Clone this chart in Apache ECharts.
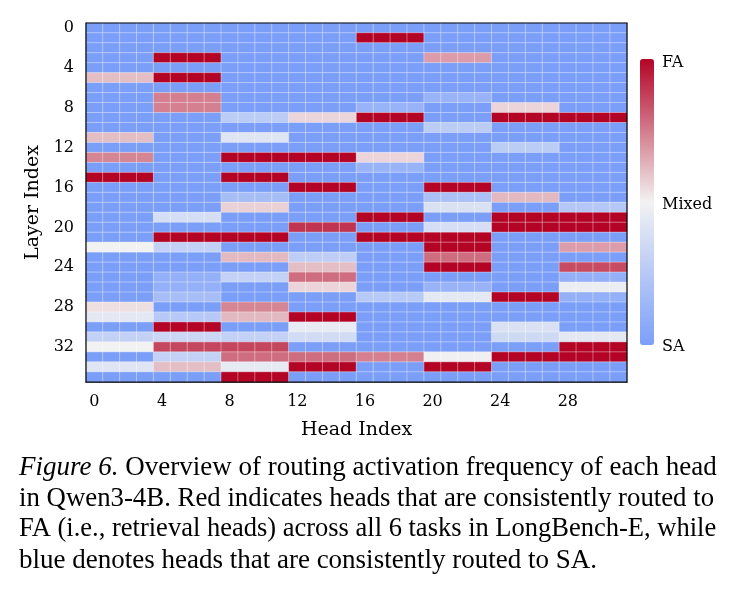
<!DOCTYPE html>
<html>
<head>
<meta charset="utf-8">
<script src="https://cdn.jsdelivr.net/npm/echarts@6/dist/echarts.min.js"></script>
<style>
  html, body { margin: 0; background: #fff; }
  #chart { width: 735px; height: 591px; }
</style>
</head>
<body>
<div id="chart"></div>
<script>
// routing frequency per KV group (4 query heads share one value), layers 0..35
var g0 = [0,0,0,0,0,0.61,0,0,0,0,0,0.61,0,0.73,0,1,0,0,0,0,0,0,0.5,0,0,0,0,0,0.54,0.44,0,0.3,0.5,0,0.42,0];
var g1 = [0,0,0,1,0,1,0,0.74,0.74,0,0,0,0,0,0,0,0,0,0,0.38,0,1,0.3,0,0,0.1,0.1,0.18,0,0.25,1,0.33,0.86,0.3,0.61,0];
var g2 = [0,0,0,0,0,0,0,0,0,0.27,0,0.42,0,1,0,1,0,0.18,0.57,0,0,1,0,0.62,0,0.3,0,0,0.73,0.62,0,0.3,0.86,0.78,0.45,1];
var g3 = [0,0,0,0,0,0,0,0,0,0.56,0,0,0,1,0,0,1,0,0,0,0.9,0,0,0.28,0.61,0.78,0.56,0,0,1,0.46,0.36,0,0.78,1,0];
var g4 = [0,1,0,0,0,0,0,0,0.12,1,0,0,0,0.56,0.12,0,0,0,0,1,0,1,0,0,0,0,0,0.25,0,0,0,0,0,0.74,0,0];
var g5 = [0,0,0,0.68,0,0,0,0.12,0,0,0.27,0,0,0,0,0,1,0.2,0.4,0,0.38,1,1,0.78,1,0,0.12,0.44,0,0,0,0,0,0.49,1,0];
var g6 = [0,0,0,0,0,0,0,0,0.56,1,0,0,0.27,0,0,0,0,0.62,0,1,1,0,0,0,0,0,0,1,0,0,0.4,0.35,0,1,0,0];
var g7 = [0,0,0,0,0,0,0,0,0,1,0,0,0,0,0,0,0,0,0.24,1,1,0,0.68,0,0.85,0.1,0.47,0.1,0,0,0,0.44,1,1,0,0];

var groups = [g0, g1, g2, g3, g4, g5, g6, g7];
var headsPerGroup = 4;
var numLayers = 36;

var heads = [];
for (var h = 0; h < groups.length * headsPerGroup; h++) heads.push(String(h));
var layers = [];
for (var l = 0; l < numLayers; l++) layers.push(String(l));

var cells = [];
for (var h2 = 0; h2 < heads.length; h2++) {
  var g = groups[Math.floor(h2 / headsPerGroup)];
  for (var l2 = 0; l2 < numLayers; l2++) {
    cells.push([h2, l2, g[l2]]);
  }
}

var serif = '"DejaVu Serif", serif';
var times = '"Liberation Serif", "Times New Roman", serif';

var chart = echarts.init(document.getElementById('chart'));
chart.setOption({
  backgroundColor: '#fff',
  animation: false,
  grid: {
    left: 86, top: 23, width: 541, height: 359,
    show: true, borderColor: '#000', borderWidth: 1.2, z: 10
  },
  xAxis: {
    type: 'category',
    data: heads,
    name: 'Head Index',
    nameLocation: 'middle',
    nameGap: 39,
    nameTextStyle: { fontFamily: serif, fontSize: 19, color: '#000' },
    axisLine: { lineStyle: { color: '#000', width: 1.2 } },
    axisTick: { interval: 3, alignWithLabel: true, length: 6, lineStyle: { color: '#000' } },
    axisLabel: { interval: 3, margin: 12, fontFamily: serif, fontSize: 16, color: '#000' },
    splitLine: { show: false }
  },
  yAxis: {
    type: 'category',
    data: layers,
    inverse: true,
    name: 'Layer Index',
    nameLocation: 'middle',
    nameGap: 37,
    nameTextStyle: { fontFamily: serif, fontSize: 19, color: '#000' },
    axisLine: { lineStyle: { color: '#000', width: 1.2 } },
    axisTick: { interval: 3, alignWithLabel: true, length: 6, lineStyle: { color: '#000' } },
    axisLabel: { interval: 3, margin: 12, fontFamily: serif, fontSize: 16, color: '#000' },
    splitLine: { show: false }
  },
  visualMap: {
    type: 'continuous',
    min: 0,
    max: 1,
    seriesIndex: 0,
    calculable: false,
    orient: 'vertical',
    left: 640,
    top: 59,
    padding: 0,
    itemWidth: 14,
    itemHeight: 286,
    text: null,
    showLabel: false,
    inRange: { color: ['#7b9ff9', '#f2f2f2', '#b40426'] }
  },
  graphic: [
    { type: 'text', left: 662, top: 55, style: { text: 'FA', fontFamily: serif, fontSize: 16, fill: '#000' } },
    { type: 'text', left: 662, top: 197, style: { text: 'Mixed', fontFamily: serif, fontSize: 16, fill: '#000' } },
    { type: 'text', left: 662, top: 339, style: { text: 'SA', fontFamily: serif, fontSize: 16, fill: '#000' } },
    { type: 'text', left: 19, top: 454, style: {
      text: '{i|Figure 6.} Overview of routing activation frequency of each head',
      fontFamily: times, fontSize: 27, fill: '#000',
      rich: { i: { fontFamily: times, fontSize: 27, fontStyle: 'italic' } }
    } },
    { type: 'text', left: 19, top: 485, style: { text: 'in Qwen3-4B. Red indicates heads that are consistently routed to', fontFamily: times, fontSize: 26.8, fill: '#000' } },
    { type: 'text', left: 19, top: 516, style: { text: 'FA (i.e., retrieval heads) across all 6 tasks in LongBench-E, while', fontFamily: times, fontSize: 26.5, fill: '#000' } },
    { type: 'text', left: 19, top: 547, style: { text: 'blue denotes heads that are consistently routed to SA.', fontFamily: times, fontSize: 27, fill: '#000' } }
  ],
  series: [{
    type: 'heatmap',
    data: cells,
    itemStyle: { borderColor: 'rgba(255,255,255,0.45)', borderWidth: 0.8 },
    emphasis: { disabled: true }
  }]
});
</script>
</body>
</html>
